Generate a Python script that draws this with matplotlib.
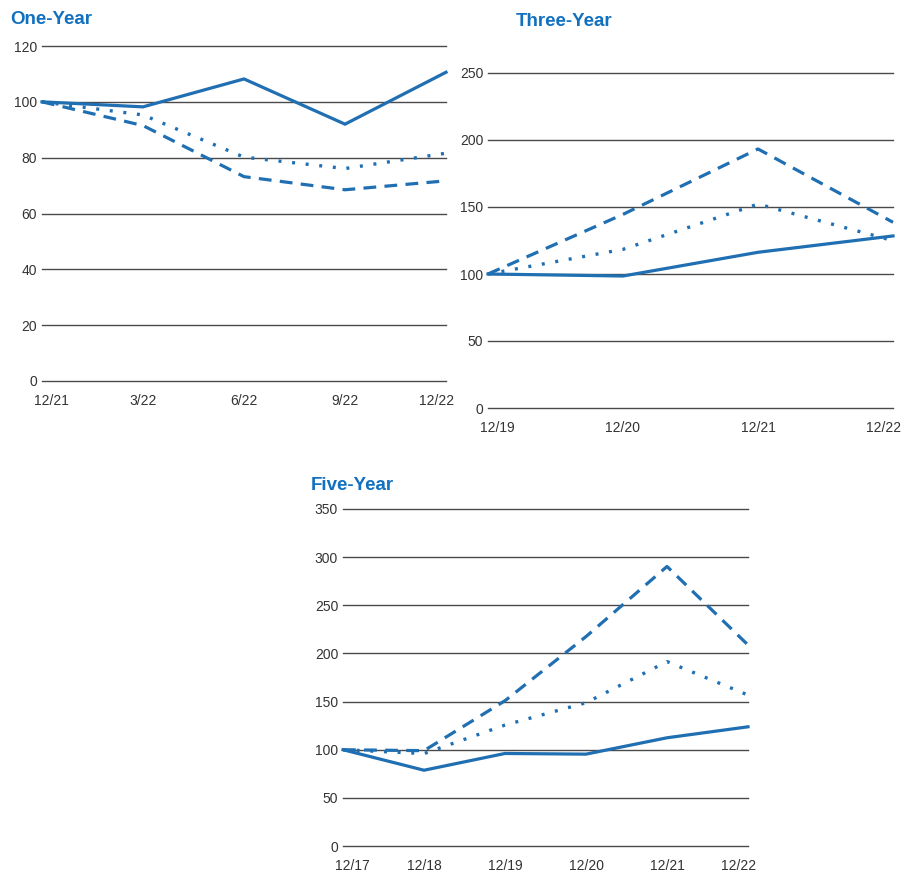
import matplotlib
matplotlib.use("Agg")
import matplotlib.pyplot as plt
from matplotlib.transforms import ScaledTranslation

plt.rcParams["font.family"] = ["Liberation Sans", "DejaVu Sans"]

LINE_COLOR = "#1f6fb2"
TITLE_COLOR = "#1170c0"
GRID_COLOR = "#4a4a4a"
TICK_COLOR = "#333333"

# One-year performance (quarterly)
one_year_labels = ["12/21", "3/22", "6/22", "9/22", "12/22"]
one_year_company = [100, 98.2, 108.2, 92.0, 110.6]
one_year_index_a = [100, 91.5, 73.2, 68.5, 71.7]
one_year_index_b = [100, 95.3, 80.2, 76.1, 81.6]
one_year_yticks = [0, 20, 40, 60, 80, 100, 120]

# Three-year performance (annual)
three_year_labels = ["12/19", "12/20", "12/21", "12/22"]
three_year_company = [100, 98.5, 116.2, 128.4]
three_year_index_a = [100, 144.5, 193.3, 138.6]
three_year_index_b = [100, 118.4, 152.2, 124.9]
three_year_yticks = [0, 50, 100, 150, 200, 250]

# Five-year performance (annual)
five_year_labels = ["12/17", "12/18", "12/19", "12/20", "12/21", "12/22"]
five_year_company = [100, 78.7, 96.1, 95.4, 112.4, 123.8]
five_year_index_a = [100, 99.0, 150.9, 217.5, 290.3, 208.8]
five_year_index_b = [100, 96.0, 125.6, 148.8, 191.5, 156.8]
five_year_yticks = [0, 50, 100, 150, 200, 250, 300, 350]

W, H = 906, 873
fig = plt.figure(figsize=(W / 100, H / 100), dpi=100)


def px_axes(left, top, right, bottom):
    return fig.add_axes([left / W, 1 - bottom / H, (right - left) / W, (bottom - top) / H])


def draw_panel(ax, labels, company, index_a, index_b, yticks, title, title_xy, edge_shift):
    x = list(range(len(labels)))
    ax.set_xlim(0, len(labels) - 1)
    ax.set_ylim(yticks[0], yticks[-1])
    for y in yticks:
        ax.axhline(y, color=GRID_COLOR, lw=1.0, zorder=1, clip_on=False)
    ax.plot(x, index_a, color=LINE_COLOR, lw=2.3, ls=(0, (4.0, 2.6)), zorder=3,
            clip_on=False, dash_capstyle="butt")
    ax.plot(x, index_b, color=LINE_COLOR, lw=2.4, ls=(0, (0.9, 3.2)), zorder=3,
            clip_on=False, dash_capstyle="butt")
    ax.plot(x, company, color=LINE_COLOR, lw=2.3, ls="-", zorder=4, clip_on=False,
            solid_joinstyle="miter")
    for s in ax.spines.values():
        s.set_visible(False)
    ax.set_yticks(yticks)
    ax.set_yticklabels([str(v) for v in yticks])
    ax.set_xticks(x)
    ax.set_xticklabels(labels)
    ax.tick_params(axis="both", length=0, labelsize=10, labelcolor=TICK_COLOR)
    ax.tick_params(axis="y", pad=3.5)
    ax.tick_params(axis="x", pad=9.5)
    ticklabels = ax.get_xticklabels()
    ticklabels[0].set_transform(ticklabels[0].get_transform() +
                                ScaledTranslation(edge_shift / 100, 0, fig.dpi_scale_trans))
    ticklabels[-1].set_transform(ticklabels[-1].get_transform() +
                                 ScaledTranslation(-edge_shift / 100, 0, fig.dpi_scale_trans))
    fig.text(title_xy[0] / W, 1 - title_xy[1] / H, title, color=TITLE_COLOR,
             fontsize=13.5, fontweight="bold", ha="left", va="center")


ax1 = px_axes(42, 46, 446, 381)
draw_panel(ax1, one_year_labels, one_year_company, one_year_index_a, one_year_index_b,
           one_year_yticks, "One-Year", (10, 19), 9)

ax2 = px_axes(488, 73, 893, 408)
draw_panel(ax2, three_year_labels, three_year_company, three_year_index_a, three_year_index_b,
           three_year_yticks, "Three-Year", (516, 21), 9)

ax3 = px_axes(343, 509, 748, 846)
draw_panel(ax3, five_year_labels, five_year_company, five_year_index_a, five_year_index_b,
           five_year_yticks, "Five-Year", (311, 485), 9)

fig.savefig("out.png", dpi=100, facecolor="white")
